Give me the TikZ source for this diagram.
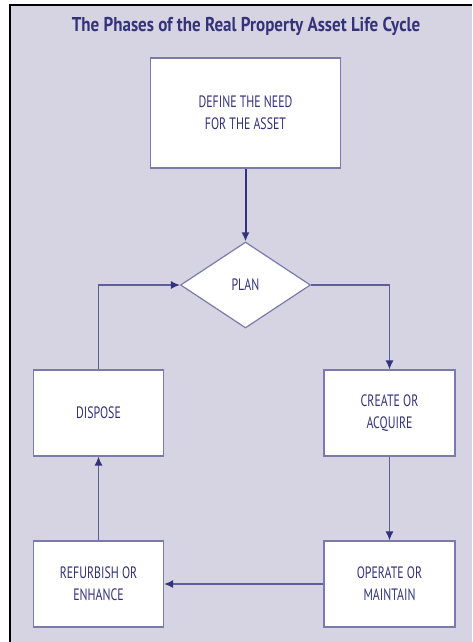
\documentclass[tikz,border=0pt]{standalone}
\usepackage{fontspec}
\setmainfont{PT Sans}[FakeStretch=0.72]
\newfontfamily\titlefont{PT Sans}[FakeStretch=0.85]
\usetikzlibrary{shapes.geometric,arrows.meta}

\definecolor{pagebg}{HTML}{D6D3E2}
\definecolor{boxline}{HTML}{7C7AAC}
\definecolor{flowline}{HTML}{5F5D9C}
\definecolor{ink}{HTML}{34337A}

\begin{document}
\begin{tikzpicture}[x=1pt,y=-1pt,
		phase/.style={draw=boxline, line width=1.2pt, fill=white, minimum width=131pt, minimum height=86pt, inner sep=0pt, align=center, text=ink, font=\fontsize{16.5}{22}\selectfont},
		flow/.style={draw=flowline, line width=1.3pt, >={Latex[length=9pt,width=8pt,color=ink]}}]
		\useasboundingbox (0,0) rectangle (472,642);
		\fill[pagebg] (9,5) rectangle (472,642);
		\draw[black, line width=2pt] (9.5,642) -- (9.5,5.5) -- (472,5.5);
		
		\node[text=ink, font=\titlefont\fontsize{20}{22}\selectfont\bfseries] (title) at (246,26) {The Phases of the Real Property Asset Life Cycle};
		
		\node[phase, minimum width=190pt, minimum height=110pt] (define) at (245.5,113) {DEFINE THE NEED\\FOR THE ASSET};
		\node[phase, diamond, minimum width=130pt, minimum height=86pt] (plan) at (245.5,285) {PLAN};
		\node[phase] (create) at (389.5,413) {CREATE OR\\ACQUIRE};
		\node[phase] (operate) at (389.5,584) {OPERATE OR\\MAINTAIN};
		\node[phase, minimum width=130pt] (refurbish) at (98.5,584) {REFURBISH OR\\ENHANCE};
		\node[phase, minimum width=130pt] (dispose) at (98.5,413) {DISPOSE};
		
		\draw[flow, ->, draw=ink, line width=2pt] (define.south) -- (plan.north);
		\draw[flow, ->] (plan.east) -| (create.north);
		\draw[flow, ->] (create.south) -- (operate.north);
		\draw[flow, ->] (operate.west) -- (refurbish.east);
		\draw[flow, ->] (refurbish.north) -- (dispose.south);
		\draw[flow, ->] (dispose.north) |- (plan.west);
	\end{tikzpicture}
\end{document}
